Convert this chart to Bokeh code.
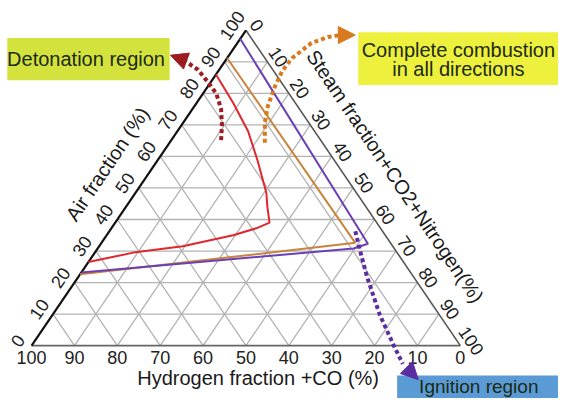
import math
from bokeh.plotting import figure
from bokeh.models import Range1d, Arrow, NormalHead
from bokeh.core.properties import value
from bokeh.embed import file_html
from bokeh.resources import INLINE

# ---------------- data ----------------
ticks = [0, 10, 20, 30, 40, 50, 60, 70, 80, 90, 100]
grid_levels = [10, 20, 30, 40, 50, 60, 70, 80, 90]

# curves given as (hydrogen %, air %); steam = 100 - H - A
red_h = [14, 14.5, 15.5, 18, 21, 23, 25, 29, 35.5, 49, 61.5, 73.5]
red_a = [86, 77, 68, 58.5, 48.5, 44, 39, 37.2, 35, 31.5, 29.5, 26.5]
orange_h = [8.8, 8.2, 77.4]
orange_a = [91.2, 32.6, 22.6]
purple_h = [2.7, 5.4, 9.5, 76.8]
purple_a = [97.3, 32.3, 30.8, 23.2]

# dotted annotation arrows (chart units X, Y)
red_arrow_x = [44.2, 44.4, 44.2, 43.1, 41.0, 38.8, 36.5, 34.6]
red_arrow_y = [65.2, 69.8, 75.0, 79.9, 83.8, 87.5, 89.6, 91.0]
red_tip = (32.4, 92.1)
orange_arrow_x = [54.4, 54.4, 55.1, 56.7, 58.5, 60.8, 65.3, 69.2, 72.1]
orange_arrow_y = [64.3, 70.7, 75.9, 82.0, 87.2, 91.2, 96.0, 97.9, 98.5]
orange_tip = (75.5, 98.5)
purple_arrow_x = [75.5, 76.6, 78.2, 81.2, 84.6, 86.6]
purple_arrow_y = [36.3, 30.2, 22.0, 9.8, -0.3, -5.8]
purple_tip = (90.2, -10.8)


def tern(h, a):
    s = 100.0 - h - a
    return s + a / 2.0, a


def tern_list(hs, as_):
    pts = [tern(h, a) for h, a in zip(hs, as_)]
    return [p[0] for p in pts], [p[1] for p in pts]


# layout helper: reference picture pixels -> chart units
def L(xi, yi):
    return (xi - 32) / 4.41, (359 - yi) / 3.28


x0, y1 = L(0, 0)
x1, y0 = L(574, 414)

p = figure(width=558, height=398, output_backend="svg", toolbar_location=None,
           x_range=Range1d(x0, x1), y_range=Range1d(y0, y1),
           x_axis_type=None, y_axis_type=None, min_border=0)
p.outline_line_color = None
p.grid.visible = False
p.background_fill_color = "white"

FONT = value("Liberation Sans")

# ---------------- grid ----------------
gxs, gys = [], []
for k in grid_levels:
    # constant air
    a, b = tern(100 - k, k), tern(0, k)
    gxs.append([a[0], b[0]]); gys.append([a[1], b[1]])
    # constant steam (parallel to left edge)
    a, b = tern(100 - k, 0), tern(0, 100 - k)
    gxs.append([a[0], b[0]]); gys.append([a[1], b[1]])
    # constant hydrogen (parallel to right edge)
    a, b = tern(k, 0), tern(k, 100 - k)
    gxs.append([a[0], b[0]]); gys.append([a[1], b[1]])
p.multi_line(gxs, gys, line_color="#b3b3b3", line_width=1.3)

# edges
bl, br, top = tern(100, 0), tern(0, 0), tern(0, 100)
p.line([bl[0], br[0]], [bl[1], br[1]], line_color="#666666", line_width=1.6)
p.line([br[0], top[0]], [br[1], top[1]], line_color="#555555", line_width=1.6)
p.line([bl[0], top[0]], [bl[1], top[1]], line_color="#111111", line_width=2.2)

# ---------------- curves ----------------
rx, ry = tern_list(red_h, red_a)
p.line(rx, ry, line_color="#e0262e", line_width=2)
ox, oy = tern_list(orange_h, orange_a)
p.line(ox, oy, line_color="#c8843a", line_width=2)
ux, uy = tern_list(purple_h, purple_a)
p.line(ux, uy, line_color="#6a40b4", line_width=2)

# ---------------- tick labels ----------------
tick_style = dict(text_font=FONT, text_font_size="18px", text_color="#222222",
                  text_align="center", text_baseline="middle")
# bottom: hydrogen 100 .. 0
bx = [tern(t, 0)[0] for t in ticks]
by = [0 for t in ticks]
p.text(bx, by, text=[str(t) for t in ticks], y_offset=12, **tick_style)
# left: air
lx = [tern(100 - t, t)[0] for t in ticks]
ly = [t for t in ticks]
p.text(lx, ly, text=[str(t) for t in ticks], angle=math.radians(56),
       x_offset=-14, y_offset=-5, **tick_style)
# right: steam
rtx = [tern(0, 100 - t)[0] for t in ticks]
rty = [100 - t for t in ticks]
p.text(rtx, rty, text=[str(t) for t in ticks], angle=math.radians(-56),
       x_offset=11, y_offset=-5, **tick_style)

# ---------------- axis titles ----------------
title_style = dict(text_font=FONT, text_font_size="20px", text_color="#1a1a1a",
                   text_align="center", text_baseline="middle")
tx, ty = L(110, 170)
p.text([tx], [ty], text=["Air fraction (%)"], angle=math.radians(56), **title_style)
tx, ty = L(406, 183)
p.text([tx], [ty], text=["Steam fraction+CO2+Nitrogen(%)"], angle=math.radians(-56),
       **title_style)
tx, ty = L(265, 393)
p.text([tx], [ty], text=["Hydrogen fraction +CO (%)"], **title_style)

# ---------------- dotted arrows ----------------
for xs, ys, tip, col in [(red_arrow_x, red_arrow_y, red_tip, "#9c1c22"),
                         (orange_arrow_x, orange_arrow_y, orange_tip, "#d97a1e"),
                         (purple_arrow_x, purple_arrow_y, purple_tip, "#5a2ea0")]:
    p.line(xs, ys, line_color=col, line_width=4, line_dash="4 3")
    p.add_layout(Arrow(end=NormalHead(size=17, fill_color=col, line_color=col),
                       x_start=xs[-1], y_start=ys[-1], x_end=tip[0], y_end=tip[1],
                       line_color=col, line_alpha=0.0))

# ---------------- boxes ----------------
def box(xa, ya, xb, yb, color):
    l, t = L(xa, ya)
    r, b = L(xb, yb)
    p.quad(left=[l], right=[r], top=[t], bottom=[b], fill_color=color, line_color=None)

box(7, 39, 174, 83, "#d3e23c")
box(368, 33, 590, 88, "#edf03c")
box(408, 390, 590, 430, "#5b9bd5")

lab = dict(text_font=FONT, text_font_size="20px", text_color="#1c2a14",
           text_align="center", text_baseline="middle")
tx, ty = L(88, 61)
p.text([tx], [ty], text=["Detonation region"], **lab)
tx, ty = L(471, 52)
p.text([tx], [ty], text=["Complete combustion"], **lab)
tx, ty = L(471, 71)
p.text([tx], [ty], text=["in all directions"], **lab)
tx, ty = L(492, 402)
p.text([tx], [ty], text=["Ignition region"], text_font=FONT, text_font_size="19px",
       text_color="#1c2a14", text_align="center", text_baseline="middle")

open("out.html", "w").write(file_html(p, INLINE))
